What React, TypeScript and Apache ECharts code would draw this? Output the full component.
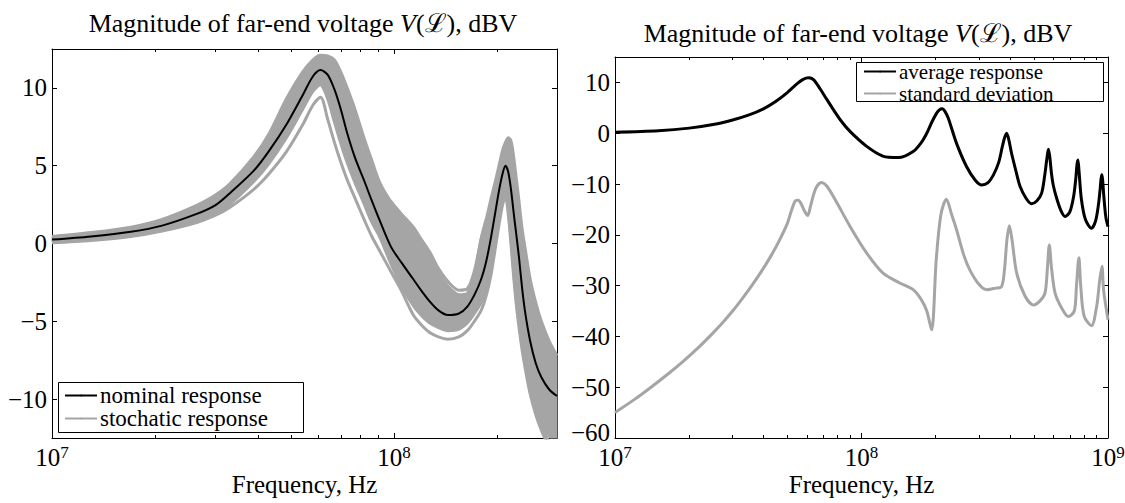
import { useEffect, useRef } from 'react';
import * as echarts from 'echarts';

const FONT = "'Liberation Serif', 'DejaVu Serif', 'Times New Roman', serif";
const BLACK = '#000000';
const GRAY = '#a5a5a5';

// ---------- Left panel: nominal and stochastic responses (frequency in MHz, level in dBV)
const leftFreqMHz = [10, 13, 17, 21, 26.5, 30, 33, 39, 43, 48.5, 54, 58, 61, 64, 67, 70, 73, 77, 82, 86, 91, 98, 105, 114, 120, 127, 135, 144, 155, 164, 172, 180, 186, 192, 198, 203, 208, 212, 216, 220, 224, 228, 232, 237, 242, 250, 260, 270, 285, 300];
const nominalResponse = [0.25, 0.45, 0.75, 1.15, 1.9, 2.45, 3.2, 4.7, 5.9, 7.65, 9.5, 10.75, 11.15, 10.85, 9.9, 8.6, 7.1, 5.5, 4.0, 2.8, 1.45, -0.2, -1.2, -2.3, -3.0, -3.7, -4.3, -4.6, -4.5, -4.05, -3.3, -2.3, -1.2, 0.3, 2.0, 3.4, 4.5, 5.0, 4.6, 3.5, 2.0, 0.6, -0.8, -2.8, -4.4, -6.2, -7.7, -8.6, -9.4, -9.8];
const stochasticUpper = [0.45, 0.7, 1.05, 1.55, 2.45, 3.1, 3.8, 5.6, 7.0, 9.3, 11.0, 11.8, 12.1, 12.05, 11.8, 11.0, 10.0, 8.6, 6.7, 5.4, 3.9, 2.7, 1.9, 1.0, 0.2, -0.7, -1.9, -2.75, -3.3, -3.2, -2.0, 0.3, 1.5, 2.8, 4.0, 5.0, 6.0, 6.5, 6.8, 6.6, 5.6, 4.2, 2.8, 1.0, -0.3, -2.2, -3.8, -5.0, -6.3, -7.2];
const stochasticLower = [0.1, 0.25, 0.5, 0.85, 1.45, 1.95, 2.5, 4.0, 5.1, 6.8, 8.6, 9.8, 10.2, 9.3, 7.8, 6.4, 5.2, 3.9, 2.5, 1.4, 0.4, -1.3, -2.7, -4.0, -4.6, -5.1, -5.4, -5.6, -5.5, -5.1, -4.5, -3.8, -3.0, -1.8, 0.0, 1.5, 2.8, 3.3, 2.2, 0.3, -1.8, -3.6, -5.0, -6.5, -7.7, -9.3, -10.7, -11.7, -12.8, -13.5];
const stochasticLowest = [0.05, 0.2, 0.45, 0.8, 1.35, 1.8, 2.3, 3.5, 4.45, 5.9, 7.6, 8.9, 9.4, 8.0, 6.5, 5.2, 4.1, 2.9, 1.5, 0.5, -0.5, -1.8, -3.0, -4.6, -5.2, -5.7, -6.0, -6.15, -6.0, -5.6, -5.0, -4.3, -3.4, -2.1, -0.3, 1.2, 2.5, 3.0, 1.9, 0.0, -2.1, -3.9, -5.3, -6.8, -8.0, -9.6, -11.0, -12.0, -13.1, -13.8];
const highOutlierFreqMHz = [98, 105, 114, 120, 127, 135, 144, 155, 164, 172, 180, 186];
const stochasticHighest = [2.7, 1.9, 1.05, 0.3, -0.5, -1.6, -2.45, -3.0, -2.9, -1.75, 0.3, 1.5];

// ---------- Right panel: average response and standard deviation
const avgFreqMHz = [10, 15, 20, 25, 30, 35, 40, 45, 50, 55, 58, 61, 64, 68, 72, 77, 83, 90, 105, 122, 141, 162, 175, 184, 193, 201.5, 207, 212.6, 218, 225, 243, 267, 290, 307.5, 325, 343, 360, 372, 380, 388, 396, 406, 425, 440, 465, 490, 515, 538, 553, 565, 573, 580, 590, 600, 619, 645, 669, 700, 725, 740, 748, 755, 763, 780, 810, 857, 890, 915, 930, 942, 950, 962, 980, 1000];
const averageResponse = [0.2, 0.5, 1.0, 1.7, 2.6, 3.6, 4.8, 6.3, 8.0, 9.8, 10.6, 10.9, 10.5, 8.7, 6.8, 4.6, 2.3, 0.3, -2.6, -4.5, -4.8, -3.6, -1.8, 0, 2.2, 3.9, 4.6, 4.8, 4.3, 2.95, -2, -6.6, -9.3, -10.2, -9.8, -8.2, -5.8, -2.8, -1.0, 0, -1.3, -3.9, -7.8, -10.5, -12.8, -13.9, -13.3, -11.8, -8.5, -5.0, -3.15, -4.5, -8.0, -10.3, -12.8, -15.3, -16.4, -15.5, -12.5, -9.0, -6.3, -5.3, -7.5, -13.0, -17.0, -18.7, -17.3, -14.0, -10.8, -8.2, -9.0, -12.5, -16.5, -18.4];
const stdFreqMHz = [10, 12, 14, 16.4, 19, 22, 25, 27.2, 30, 33, 36, 39.5, 43, 46, 50, 52, 54, 55.5, 57, 59, 60.5, 62, 64, 66, 69, 72, 77, 90, 105, 122, 143, 162, 175, 184, 192.5, 201, 210, 221, 232, 243, 260, 275, 300, 322, 350, 370, 380, 389, 398, 408, 426, 460, 498, 530, 555, 567, 578, 590, 610, 650, 690, 730, 745, 762, 775, 800, 857, 900, 925, 945, 960, 1000];
const standardDeviation = [-55, -52.4, -50.0, -47.4, -44.8, -42.0, -39.3, -37.4, -35.0, -32.4, -29.9, -27.0, -24.1, -21.5, -17.8, -15.2, -13.3, -13.2, -14.0, -15.5, -16.2, -14.5, -12.0, -10.4, -9.7, -10.3, -12.5, -18.4, -23.6, -27.5, -29.5, -30.8, -32.8, -35, -38.7, -24.9, -16, -13, -16, -19, -24, -26.9, -29.8, -30.8, -30.5, -30.2, -27, -21, -18.2, -21, -27.5, -32, -33.8, -33, -31.5, -27, -22, -26.5, -31.5, -34.5, -36.1, -35, -30, -24.5, -30, -36, -37.9, -34, -29, -26.2, -31, -36.7];

// ---------- Ticks
const leftXMajor = [1e7, 1e8];
const leftXMinor = [2e7, 3e7, 4e7, 5e7, 6e7, 7e7, 8e7, 9e7, 2e8];
const rightXMajor = [1e7, 1e8, 1e9];
const rightXMinor = [2e7, 3e7, 4e7, 5e7, 6e7, 7e7, 8e7, 9e7, 2e8, 3e8, 4e8, 5e8, 6e8, 7e8, 8e8, 9e8];
const leftYTicks = [-10, -5, 0, 5, 10];
const rightYTicks = [-60, -50, -40, -30, -20, -10, 0, 10];

const pairs = (fMHz: number[], vals: number[]) => fMHz.map((f, i) => [f * 1e6, vals[i]]);

const TITLE = 'Magnitude of far-end voltage {i|V}(ℒ), dBV';

function xAxes(gridIndex: number, min: number, max: number, major: number[], minor: number[]) {
  const base = { type: 'log', logBase: 10, gridIndex, min, max, splitLine: { show: false } };
  const line = { show: true, onZero: false, lineStyle: { color: BLACK, width: 1 } };
  return [
    {
      ...base,
      position: 'bottom',
      axisLine: line,
      axisTick: { show: true, inside: true, length: 5, customValues: major, lineStyle: { color: BLACK } },
      axisLabel: {
        show: true,
        customValues: major,
        margin: 6,
        formatter: (v: number) => `{b|10}{s|${Math.round(Math.log10(v))}}`,
        rich: {
          b: { fontFamily: FONT, fontSize: 25, color: BLACK, lineHeight: 26, verticalAlign: 'bottom' },
          s: { fontFamily: FONT, fontSize: 17, color: BLACK, lineHeight: 18, verticalAlign: 'top', padding: [0, 0, 14, 0] },
        },
      },
      name: 'Frequency, Hz',
      nameLocation: 'middle',
      nameGap: 34,
      nameMoveOverlap: false,
      nameTextStyle: { fontFamily: FONT, fontSize: 25, color: BLACK, verticalAlign: 'top', align: 'center' },
    },
    {
      ...base,
      position: 'top',
      axisLine: line,
      axisTick: { show: true, inside: true, length: 5, customValues: major, lineStyle: { color: BLACK } },
      axisLabel: { show: false },
    },
    {
      ...base,
      position: 'bottom',
      axisLine: { show: false, onZero: false },
      axisTick: { show: true, inside: true, length: 3, customValues: minor, lineStyle: { color: BLACK } },
      axisLabel: { show: false },
    },
    {
      ...base,
      position: 'top',
      axisLine: { show: false, onZero: false },
      axisTick: { show: true, inside: true, length: 3, customValues: minor, lineStyle: { color: BLACK } },
      axisLabel: { show: false },
    },
  ];
}

function yAxes(gridIndex: number, min: number, max: number, ticks: number[]) {
  const base = { type: 'value', gridIndex, min, max, splitLine: { show: false } };
  const line = { show: true, onZero: false, lineStyle: { color: BLACK, width: 1 } };
  return [
    {
      ...base,
      position: 'left',
      axisLine: line,
      axisTick: { show: true, inside: true, length: 5, customValues: ticks, lineStyle: { color: BLACK } },
      axisLabel: {
        show: true,
        customValues: ticks,
        margin: 5,
        fontFamily: FONT,
        fontSize: 25,
        color: BLACK,
        formatter: (v: number) => {
          const t = v < 0 ? '\u2212' + Math.abs(v) : String(v);
          // the lowest label sits in the corner next to the 10^7 label: lift it slightly
          return v === min ? `{low|${t}}` : t;
        },
        rich: {
          low: { fontFamily: FONT, fontSize: 25, color: BLACK, padding: [0, 0, 12, 0] },
        },
      },
    },
    {
      ...base,
      position: 'right',
      axisLine: line,
      axisTick: { show: true, inside: true, length: 5, customValues: ticks, lineStyle: { color: BLACK } },
      axisLabel: { show: false },
    },
  ];
}

function lineSeries(name: string, data: number[][], color: string, width: number, xi: number, yi: number, z: number) {
  return {
    type: 'line',
    name,
    data,
    xAxisIndex: xi,
    yAxisIndex: yi,
    symbol: 'none',
    smooth: 0.3,
    clip: true,
    silent: true,
    z,
    color,
    itemStyle: { color },
    lineStyle: { color, width },
  };
}

function legendOpt(names: string[], left: number, top: number, fontSize: number, gap: number) {
  return {
    data: names,
    orient: 'vertical',
    left,
    top,
    itemWidth: 32,
    itemHeight: 2,
    itemGap: gap,
    selectedMode: false,
    borderWidth: 0,
    padding: 0,
    z: 8,
    textStyle: { fontFamily: FONT, fontSize, color: BLACK, padding: [0, 0, 0, -2] },
  };
}

export default function App() {
  const ref = useRef<HTMLDivElement>(null);

  useEffect(() => {
    if (!ref.current) return;
    const chart = echarts.init(ref.current, undefined, { renderer: 'svg' });

    const bandData = leftFreqMHz.map((f, i) => [f * 1e6, stochasticLower[i], stochasticUpper[i]]);

    const titleText = (x: number, y: number) => ({
      type: 'text',
      x,
      y,
      style: {
        text: TITLE,
        fontFamily: FONT,
        fontSize: 26,
        fill: BLACK,
        align: 'center',
        verticalAlign: 'middle',
        rich: { i: { fontFamily: FONT, fontSize: 26, fontStyle: 'italic', fill: BLACK } },
      },
    });

    const option: any = {
      animation: false,
      backgroundColor: '#ffffff',
      grid: [
        { left: 52, top: 49, width: 505, height: 389, containLabel: false, outerBoundsMode: 'none' },
        { left: 615, top: 57, width: 493, height: 381, containLabel: false, outerBoundsMode: 'none' },
      ],
      xAxis: [...xAxes(0, 1e7, 3e8, leftXMajor, leftXMinor), ...xAxes(1, 1e7, 1e9, rightXMajor, rightXMinor)],
      yAxis: [...yAxes(0, -12.5, 12.5, leftYTicks), ...yAxes(1, -60, 15, rightYTicks)],
      legend: [
        legendOpt(['nominal response', 'stochatic response'], 64, 384, 23, 0),
        legendOpt(['average response', 'standard deviation'], 863, 61, 21, 1),
      ],
      graphic: [
        titleText(303, 23),
        titleText(858, 33),
        {
          type: 'rect',
          z: 6,
          shape: { x: 58.5, y: 382.5, width: 245, height: 50 },
          style: { fill: '#ffffff', stroke: BLACK, lineWidth: 1 },
        },
        {
          type: 'rect',
          z: 6,
          shape: { x: 856.5, y: 62.5, width: 247, height: 39 },
          style: { fill: '#ffffff', stroke: BLACK, lineWidth: 1 },
        },
      ],
      series: [
        lineSeries('stochatic response', pairs(leftFreqMHz, stochasticLower), GRAY, 3, 0, 0, 2),
        lineSeries('stochatic response', pairs(leftFreqMHz, stochasticUpper), GRAY, 3, 0, 0, 2),
        lineSeries('stochatic response', pairs(leftFreqMHz, stochasticLowest), GRAY, 3, 0, 0, 2),
        lineSeries('stochatic response', pairs(highOutlierFreqMHz, stochasticHighest), GRAY, 3, 0, 0, 2),
        {
          type: 'custom',
          name: 'stochatic response',
          xAxisIndex: 0,
          yAxisIndex: 0,
          z: 1,
          silent: true,
          data: bandData,
          encode: { x: 0, y: [1, 2] },
          renderItem: (params: any, api: any) => {
            if (params.dataIndexInside !== 0) return null;
            const n = params.dataInsideLength;
            const cs = params.coordSys;
            const top: number[][] = [];
            const bottom: number[][] = [];
            for (let j = 0; j < n; j++) {
              const x = api.value(0, j);
              top.push(api.coord([x, api.value(2, j)]));
              bottom.push(api.coord([x, api.value(1, j)]));
            }
            const pts = top
              .concat(bottom.reverse())
              .map((p) => [p[0], Math.min(Math.max(p[1], cs.y), cs.y + cs.height)]);
            return { type: 'polygon', shape: { points: pts }, style: { fill: GRAY, stroke: GRAY, lineWidth: 1 } };
          },
        },
        lineSeries('nominal response', pairs(leftFreqMHz, nominalResponse), BLACK, 2, 0, 0, 3),
        lineSeries('average response', pairs(avgFreqMHz, averageResponse), BLACK, 3, 4, 2, 3),
        lineSeries('standard deviation', pairs(stdFreqMHz, standardDeviation), GRAY, 3, 4, 2, 2),
      ],
    };

    chart.setOption(option);
    return () => chart.dispose();
  }, []);

  return (
    <div
      ref={ref}
      style={{ position: 'fixed', left: 0, top: 0, width: 1125, height: 503, background: '#ffffff' }}
    />
  );
}
